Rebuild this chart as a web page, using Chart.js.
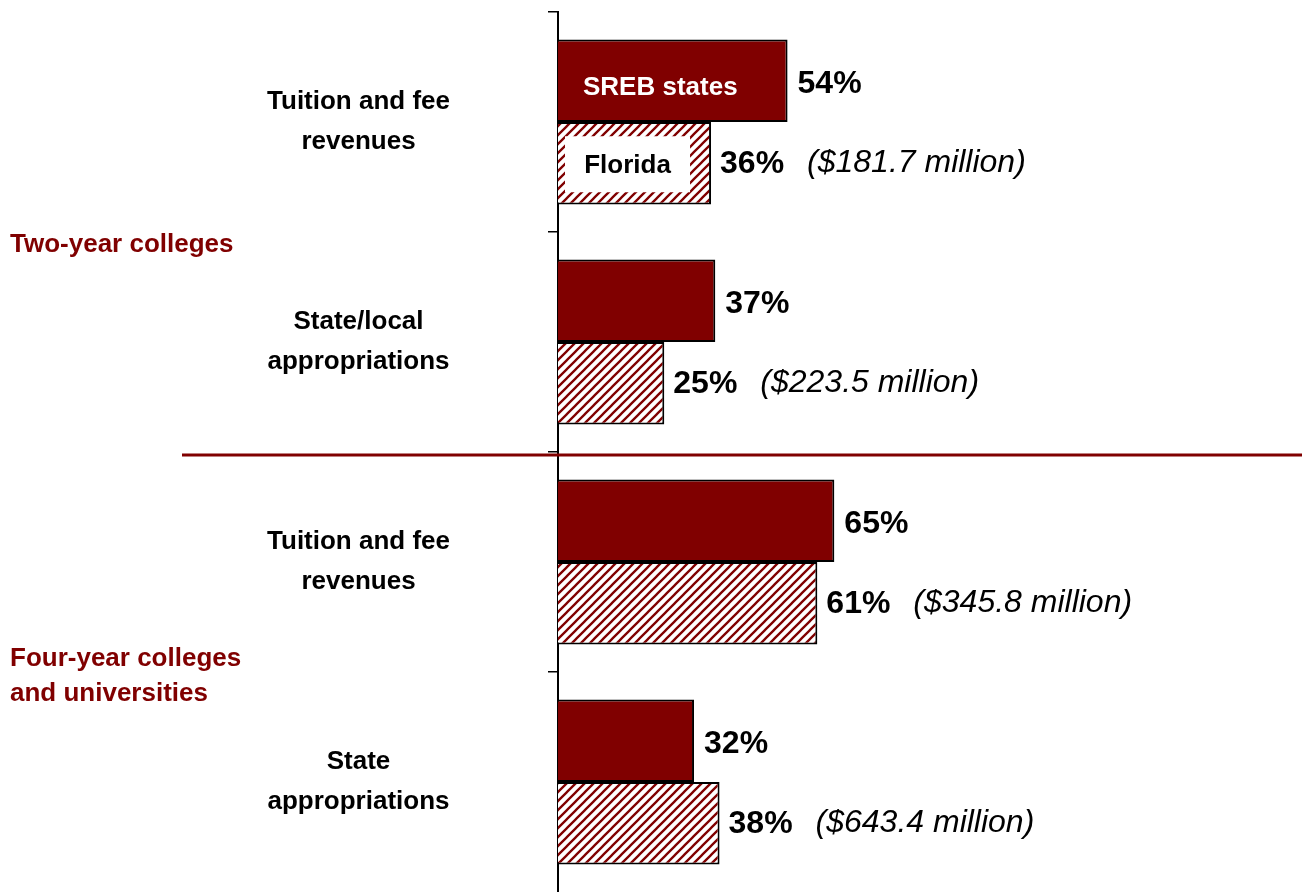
<!DOCTYPE html>
<html>
<head>
<meta charset="utf-8">
<script src="https://cdn.jsdelivr.net/npm/chart.js@4/dist/chart.umd.min.js"></script>
<style>
  html, body { margin: 0; padding: 0; background: #fff; }
  #wrap { width: 1302px; height: 892px; position: relative; }
</style>
</head>
<body>
<div id="wrap"><canvas id="chart"></canvas></div>
<script>
const categories = [
    ['Tuition and fee', 'revenues'],
    ['State/local', 'appropriations'],
    ['Tuition and fee', 'revenues'],
    ['State', 'appropriations']
];
const srebValues = [54, 37, 65, 32];
const floridaValues = [36, 25, 61, 38];
const floridaAmounts = ['($181.7 million)', '($223.5 million)', '($345.8 million)', '($643.4 million)'];
const groupLabels = [['Two-year colleges'], ['Four-year colleges', 'and universities']];
const seriesNames = ['SREB states', 'Florida'];

const DARK_RED = '#800000';
const FONT = '"Liberation Sans", Arial, Helvetica, sans-serif';

function hatch_pattern()
{
    const s = 9;
    const c = document.createElement('canvas');
    c.width = s; c.height = s;
    const g = c.getContext('2d');
    g.fillStyle = '#fff';
    g.fillRect(0, 0, s, s);
    g.strokeStyle = DARK_RED;
    g.lineWidth = 2.3;
    g.beginPath();
    g.moveTo(0, s); g.lineTo(s, 0);
    g.moveTo(-2, 2); g.lineTo(2, -2);
    g.moveTo(s - 2, s + 2); g.lineTo(s + 2, s - 2);
    g.stroke();
    return g.createPattern(c, 'repeat');
}

// value labels, in-bar legend texts, group labels and the divider line
const annotations = {
    id: 'annotations',
    afterDatasetsDraw(chart) {
        const ctx = chart.ctx;
        const yScale = chart.scales.y;
        const sreb = chart.getDatasetMeta(0).data;
        const fl = chart.getDatasetMeta(1).data;
        ctx.save();
        ctx.textBaseline = 'middle';

        // percent labels
        ctx.fillStyle = '#000';
        ctx.textAlign = 'left';
        ctx.font = `bold 32px ${FONT}`;
        sreb.forEach((b, i) => ctx.fillText(srebValues[i] + '%', b.x + 10, b.y + 3));
        fl.forEach((b, i) => ctx.fillText(floridaValues[i] + '%', b.x + 9, b.y + 1));
        ctx.font = `italic 32px ${FONT}`;
        fl.forEach((b, i) => ctx.fillText(floridaAmounts[i], b.x + 96, b.y));

        // series names inside the first pair of bars
        const b0 = sreb[0];
        ctx.font = `bold 26px ${FONT}`;
        ctx.fillStyle = '#fff';
        ctx.fillText(seriesNames[0], b0.base + 25, b0.y + 7);

        const f0 = fl[0];
        ctx.fillStyle = '#fff';
        ctx.fillRect(f0.base + 7, f0.y - 27, (f0.x - 21) - (f0.base + 7), 56);
        ctx.fillStyle = '#000';
        ctx.textAlign = 'center';
        ctx.fillText(seriesNames[1], (f0.base + 7 + f0.x - 21) / 2, f0.y + 3);

        // group labels
        ctx.fillStyle = DARK_RED;
        ctx.textAlign = 'left';
        ctx.font = `bold 26px ${FONT}`;
        const groupCenters = [
            (yScale.getPixelForValue(0) + yScale.getPixelForValue(1)) / 2 + 13,
            (yScale.getPixelForValue(2) + yScale.getPixelForValue(3)) / 2 + 4
        ];
        groupLabels.forEach((lines, gi) => {
            const lh = 35;
            const top = groupCenters[gi] - (lines.length - 1) * lh / 2;
            lines.forEach((t, li) => ctx.fillText(t, 10, top + li * lh));
        });

        // divider between the two groups
        const divY = (yScale.getPixelForValue(1) + yScale.getPixelForValue(2)) / 2 + 3;
        ctx.strokeStyle = DARK_RED;
        ctx.lineWidth = 3;
        ctx.beginPath();
        ctx.moveTo(182, divY);
        ctx.lineTo(chart.width, divY);
        ctx.stroke();
        ctx.restore();
    }
};

const ctx = document.getElementById('chart').getContext('2d');
new Chart(ctx, {
    type: 'bar',
    data: {
        labels: categories,
        datasets: [{
            label: seriesNames[0],
            data: srebValues,
            backgroundColor: DARK_RED,
            borderColor: '#000',
            borderWidth: 2
        }, {
            label: seriesNames[1],
            data: floridaValues,
            backgroundColor: hatch_pattern(),
            borderColor: '#000',
            borderWidth: 2
        }]
    },
    options: {
        indexAxis: 'y',
        responsive: true,
        maintainAspectRatio: false,
        animation: false,
        layout: { padding: { top: 12, right: 0, bottom: 0, left: 0 } },
        datasets: { bar: { categoryPercentage: 0.75, barPercentage: 1.0 } },
        plugins: { legend: { display: false }, tooltip: { enabled: false } },
        scales: {
            x: { display: false, min: 0, max: 175 },
            y: {
                z: 1,
                afterFit: (scale) => {
                    scale.width = 558;
                    scale.paddingTop = 0;
                    scale.paddingBottom = 0;
                },
                border: { display: true, color: '#000', width: 2 },
                grid: {
                    drawOnChartArea: false,
                    drawTicks: true,
                    tickLength: 10,
                    // no tick mark at the very bottom edge
                    color: (c) => c.type === 'tick' ? '#000' : 'rgba(0,0,0,0)',
                    lineWidth: 1.5
                },
                ticks: {
                    crossAlign: 'center',
                    padding: 98,
                    color: '#000',
                    font: { family: FONT, size: 26, weight: 'bold', lineHeight: 1.55 }
                }
            }
        }
    },
    plugins: [annotations]
});
</script>
</body>
</html>
